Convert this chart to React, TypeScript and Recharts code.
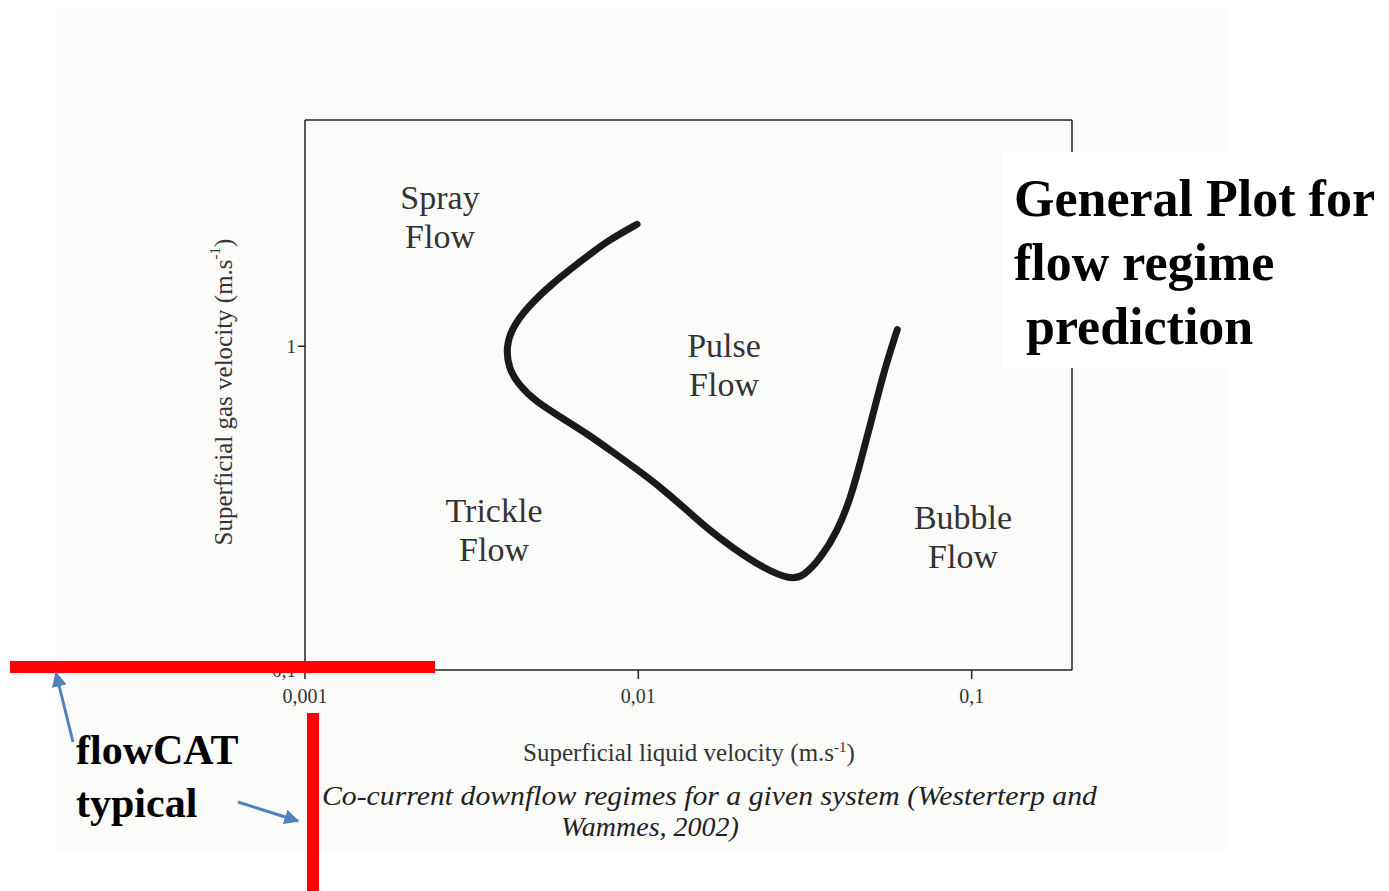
import React from 'react';
import {
  ComposedChart,
  Line,
  XAxis,
  YAxis,
  ReferenceLine,
} from 'recharts';

// boundary curve between regimes (liquid velocity, gas velocity)
const liquidVelocity = [
  0.00991, 0.00805, 0.0067, 0.00544, 0.00463, 0.00418, 0.00401, 0.00408,
  0.00437, 0.00491, 0.0059, 0.00709, 0.00834, 0.0098, 0.01178, 0.01416,
  0.01608, 0.01933, 0.02378, 0.02861, 0.03136, 0.0352, 0.03951, 0.04331,
  0.04642, 0.04997, 0.05453, 0.05983,
];
const gasVelocity = [
  2.381, 2.114, 1.826, 1.545, 1.314, 1.139, 0.993, 0.857, 0.761, 0.676, 0.6,
  0.533, 0.473, 0.42, 0.364, 0.308, 0.274, 0.237, 0.206, 0.19, 0.195, 0.221,
  0.2675, 0.339, 0.4406, 0.586, 0.837, 1.126,
];

const xTicks = [0.001, 0.01, 0.1];
const yTicks = [0.1, 1];
const xDomain = [0.001, 0.2];
const yDomain = [0.1, 5];

const regimeLabels = [
  { lines: ['Spray', 'Flow'], x: 440, y: 209 },
  { lines: ['Pulse', 'Flow'], x: 724, y: 357 },
  { lines: ['Trickle', 'Flow'], x: 494, y: 522 },
  { lines: ['Bubble', 'Flow'], x: 963, y: 529 },
];

const data = liquidVelocity.map((x, i) => ({ x, y: gasVelocity[i] }));

const comma = (v: number) => String(v).replace('.', ',');

const serif = '"Liberation Serif", "DejaVu Serif", serif';

export default function App() {
  return (
    <div
      style={{
        position: 'absolute',
        left: 0,
        top: 0,
        width: 1389,
        height: 891,
        background: '#ffffff',
        overflow: 'hidden',
        fontFamily: serif,
      }}
    >
      <div
        style={{
          position: 'absolute',
          left: 57,
          top: 8,
          width: 1171,
          height: 842,
          background: '#fbfbfa',
        }}
      />
      <div style={{ position: 'absolute', left: 0, top: 0 }}>
        <ComposedChart
          width={1389}
          height={891}
          data={data}
          margin={{ top: 120, right: 317, bottom: 161, left: 245 }}
        >
          <XAxis
            dataKey="x"
            type="number"
            scale="log"
            domain={xDomain}
            ticks={xTicks}
            tickFormatter={comma}
            allowDataOverflow
            height={60}
            axisLine={{ stroke: '#222', strokeWidth: 1.5 }}
            tickLine={{ stroke: '#222', strokeWidth: 1.5 }}
            tickSize={9}
            tick={{ fill: '#333', fontSize: 20, fontFamily: serif, dy: 8 }}
          />
          <YAxis
            dataKey="y"
            type="number"
            scale="log"
            domain={yDomain}
            ticks={yTicks}
            tickFormatter={comma}
            allowDataOverflow
            width={60}
            axisLine={{ stroke: '#222', strokeWidth: 1.5 }}
            tickLine={{ stroke: '#222', strokeWidth: 1.5 }}
            tickSize={7}
            tick={{ fill: '#333', fontSize: 19, fontFamily: serif }}
          />
          <ReferenceLine y={5} stroke="#222" strokeWidth={1.5} />
          <ReferenceLine x={0.2} stroke="#222" strokeWidth={1.5} />
          <Line
            dataKey="y"
            type="basis"
            stroke="#1a1a1a"
            strokeWidth={7}
            strokeLinecap="round"
            strokeLinejoin="round"
            dot={false}
            activeDot={false}
            isAnimationActive={false}
          />
        </ComposedChart>
      </div>
      <svg
        width={1389}
        height={891}
        style={{ position: 'absolute', left: 0, top: 0 }}
        fontFamily={serif}
      >
        <defs>
          <marker
            id="arrow"
            viewBox="0 0 10 10"
            refX="9"
            refY="5"
            markerWidth="5"
            markerHeight="5"
            orient="auto"
          >
            <path d="M0,0 L10,5 L0,10 z" fill="#4f81bd" />
          </marker>
        </defs>
        {regimeLabels.map((r) => (
          <text
            key={r.lines[0]}
            x={r.x}
            y={r.y}
            textAnchor="middle"
            fontSize={34}
            fill="#333"
          >
            <tspan x={r.x}>{r.lines[0]}</tspan>
            <tspan x={r.x} dy={39}>
              {r.lines[1]}
            </tspan>
          </text>
        ))}
        <text
          x={226}
          y={392}
          transform="rotate(-90 226 392)"
          textAnchor="middle"
          dominantBaseline="middle"
          fontSize={25}
          fill="#333"
        >
          Superficial gas velocity (m.s
          <tspan fontSize={15} dy={-9}>
            -1
          </tspan>
          <tspan dy={9}>)</tspan>
        </text>
        <text x={689} y={761} textAnchor="middle" fontSize={25} fill="#333">
          Superficial liquid velocity (m.s
          <tspan fontSize={15} dy={-9}>
            -1
          </tspan>
          <tspan dy={9}>)</tspan>
        </text>
        <text
          x={322}
          y={805}
          fontSize={28}
          fontStyle="italic"
          fill="#222"
          textLength={775}
          lengthAdjust="spacingAndGlyphs"
        >
          Co-current downflow regimes for a given system (Westerterp and
        </text>
        <text
          x={650}
          y={836}
          textAnchor="middle"
          fontSize={28}
          fontStyle="italic"
          fill="#222"
        >
          Wammes, 2002)
        </text>
        <rect x={1002} y={152} width={387} height={216} fill="#ffffff" />
        <text x={1014} y={216} fontSize={52} fontWeight="bold" fill="#000">
          General Plot for
        </text>
        <text x={1014} y={280} fontSize={52} fontWeight="bold" fill="#000">
          flow regime
        </text>
        <text x={1026} y={344} fontSize={52} fontWeight="bold" fill="#000">
          prediction
        </text>
        <rect x={10} y={661} width={425} height={12} fill="#ff0000" />
        <rect x={307} y={713} width={12} height={178} fill="#ff0000" />
        <line
          x1={73}
          y1={742}
          x2={56}
          y2={673}
          stroke="#4f81bd"
          strokeWidth={3}
          markerEnd="url(#arrow)"
        />
        <line
          x1={238}
          y1={802}
          x2={298}
          y2={821}
          stroke="#4f81bd"
          strokeWidth={3}
          markerEnd="url(#arrow)"
        />
        <text x={76} y={764} fontSize={42} fontWeight="bold" fill="#000">
          flowCAT
        </text>
        <text x={76} y={817} fontSize={42} fontWeight="bold" fill="#000">
          typical
        </text>
      </svg>
    </div>
  );
}
